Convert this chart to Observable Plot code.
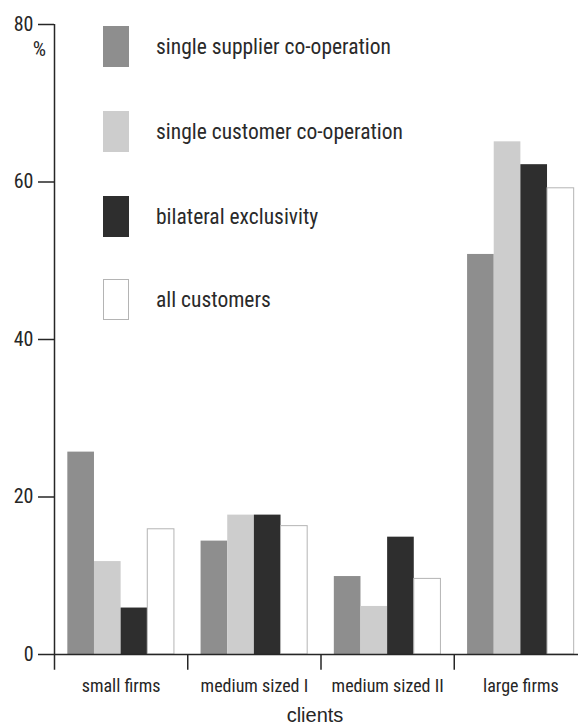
<!DOCTYPE html>
<html>
<head>
<meta charset="utf-8">
<script src="https://cdn.jsdelivr.net/npm/d3@7"></script>
<script src="https://cdn.jsdelivr.net/npm/@observablehq/plot@0.6"></script>
<style>
  html, body { margin: 0; padding: 0; background: #fff; }
  #wrap { position: relative; width: 578px; height: 725px; }
  .legend { position: absolute; left: 0; top: 0; font-family: "Liberation Sans Narrow", "Roboto Condensed", "DejaVu Sans Condensed", sans-serif; font-size: 21.5px; color: #2a2a2a; }
  .legend .item { position: absolute; left: 103px; height: 41px; display: flex; align-items: center; white-space: nowrap; }
  .legend .sw { width: 26px; height: 41px; box-sizing: border-box; margin-right: 27px; }
</style>
</head>
<body>
<div id="wrap"></div>
<script>
const categories = ["small firms", "medium sized I", "medium sized II", "large firms"];
const seriesNames = ["single supplier co-operation", "single customer co-operation", "bilateral exclusivity", "all customers"];
const supplier = [25.7, 14.4, 9.9, 50.8];
const customer = [11.8, 17.7, 6.1, 65.1];
const bilateral = [5.9, 17.7, 14.9, 62.2];
const allCustomers = [15.9, 16.3, 9.6, 59.2];
const yTicks = [0, 20, 40, 60, 80];
const fills = ["#8e8e8e", "#cdcdcd", "#2e2e2e", "#ffffff"];
const strokes = ["none", "none", "none", "#b4b4b4"];
const legendTops = [26, 111, 196, 279];

const seriesValues = [supplier, customer, bilateral, allCustomers];
const rows = [];
seriesValues.forEach((vals, si) => vals.forEach((v, ci) => rows.push({ci, si, value: v})));

const ink = "#262626";
const narrow = '"Liberation Sans Narrow", "Roboto Condensed", "DejaVu Sans Condensed", sans-serif';
const chart = Plot.plot({
  width: 578,
  height: 725,
  marginLeft: 54,
  marginRight: 0,
  marginTop: 24,
  marginBottom: 71,
  style: {fontFamily: narrow, fontSize: "19px", color: ink, background: "#fff"},
  x: {type: "linear", domain: [0, categories.length], range: [54, 587], axis: null},
  y: {domain: [0, 80], axis: null},
  marks: [
    Plot.rectY(rows, {
      x1: d => d.ci + 0.1 + 0.2 * d.si,
      x2: d => d.ci + 0.3 + 0.2 * d.si,
      y1: 0,
      y2: "value",
      fill: d => fills[d.si],
      stroke: d => strokes[d.si],
      strokeWidth: 1
    }),
    Plot.ruleY(yTicks, {x1: -0.12, x2: 0, stroke: ink, strokeWidth: 1.5}),
    Plot.text(yTicks, {x: 0, y: d => d, dx: -21, text: d => String(d), textAnchor: "end", fill: ink, fontSize: 20}),
    Plot.ruleY([0], {stroke: ink, strokeWidth: 1.5}),
    Plot.ruleX([0], {y1: -2, y2: 80, stroke: ink, strokeWidth: 1.5}),
    Plot.ruleX(d3.range(1, categories.length), {y1: -2, y2: 0, stroke: ink, strokeWidth: 1.5}),
    Plot.text(categories, {x: (d, i) => i + 0.5, y: 0, dy: 32, text: d => d, fill: ink, fontSize: 18}),
    Plot.text(["clients"], {x: categories.length / 2, y: 0, dy: 61, dx: -6, text: d => d, fill: ink, fontSize: 20, fontFamily: '"Liberation Sans", Arial, sans-serif'}),
    Plot.text(["%"], {x: 0, y: 80, dx: -15, dy: 25, text: d => d, fill: ink, fontSize: 21})
  ]
});

const wrap = document.getElementById("wrap");
wrap.appendChild(chart);

const legend = document.createElement("div");
legend.className = "legend";
seriesNames.forEach((name, i) => {
  const item = document.createElement("div");
  item.className = "item";
  item.style.top = legendTops[i] + "px";
  const sw = document.createElement("div");
  sw.className = "sw";
  sw.style.background = fills[i];
  if (strokes[i] !== "none") sw.style.border = "1px solid " + strokes[i];
  const label = document.createElement("span");
  label.textContent = name;
  item.appendChild(sw);
  item.appendChild(label);
  legend.appendChild(item);
});
wrap.appendChild(legend);
</script>
</body>
</html>
